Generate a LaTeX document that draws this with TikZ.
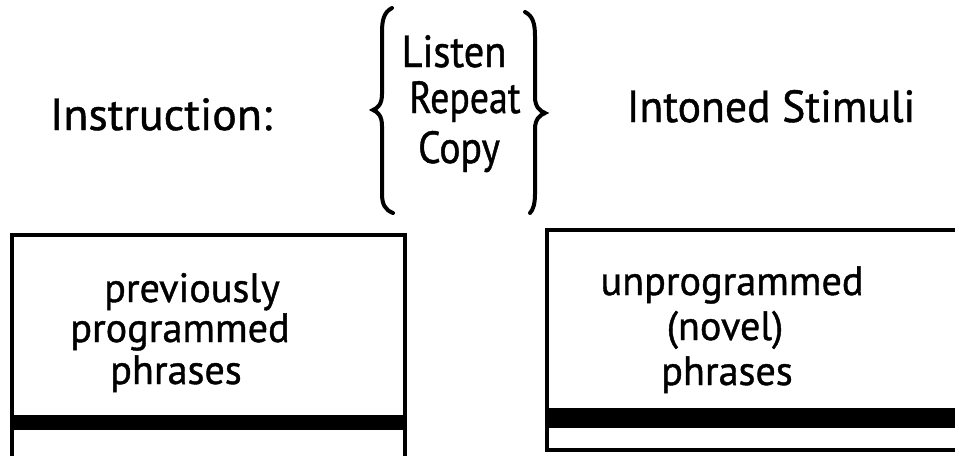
\documentclass[tikz,border=0pt]{standalone}
\usepackage{fontspec}
\setmainfont{PT Sans}[FakeBold=1]
\newcommand{\nar}[2][0.9]{\scalebox{#1}[1]{#2}}
\begin{document}
\begin{tikzpicture}[x=1pt,y=-1pt,
  lbl/.style={anchor=base,inner sep=0pt,text height=30pt,text depth=8pt,
    font=\fontsize{45}{50}\selectfont},
  boxtext/.style={lbl,text height=28pt,text depth=7pt,
    font=\fontsize{41}{46}\selectfont},
  frame/.style={line width=4pt},
  bar/.style={fill=black,draw=none},
  brace/.style={line width=4pt,line cap=round}]
\useasboundingbox (0,0) rectangle (955,455);
\clip (0,0) rectangle (955,455);
% headings
\node[lbl] (instr) at (161,130) {\nar[1.02]{Instruction:}};
\node[lbl] (stim) at (771,122) {\nar[0.97]{Intoned Stimuli}};
\node[lbl] (listen) at (454,67) {\nar[0.9]{Listen}};
\node[lbl] (repeat) at (465,113) {\nar[0.84]{Repeat}};
\node[lbl] (copy) at (459,163) {\nar[0.88]{Copy}};
% braces
\draw[brace] (392,8) .. controls (384,12) and (382,20) .. (382,32) -- (382,94)
  .. controls (382,104) and (378,108) .. (373,110)
  .. controls (378,112) and (382,116) .. (382,126) -- (382,194)
  .. controls (382,204) and (385,210) .. (393,213);
\draw[brace] (525,12) .. controls (533,16) and (535,24) .. (535,36) -- (535,97)
  .. controls (535,107) and (540,111) .. (545,113)
  .. controls (540,115) and (535,119) .. (535,129) -- (535,194)
  .. controls (535,204) and (533,210) .. (530,213);
% left box
\draw[frame] (12,470) -- (12,235) -- (405,235) -- (405,470);
\fill[bar] (12,415) rectangle (405,430);
\node[boxtext] (l1) at (192,302) {\nar[0.98]{previously}};
\node[boxtext] (l2) at (180,342) {\nar[0.98]{programmed}};
\node[boxtext] (l3) at (176,384) {\nar[0.98]{phrases}};
% right box
\draw[frame] (980,230) -- (547,230) -- (547,450) -- (980,450);
\fill[bar] (547,408) rectangle (980,428);
\node[boxtext] (r1) at (732,295) {\nar[0.98]{unprogrammed}};
\node[boxtext] (r2) at (725,340) {\nar[0.98]{(novel)}};
\node[boxtext] (r3) at (727,385) {\nar[0.98]{phrases}};
\end{tikzpicture}
\end{document}
